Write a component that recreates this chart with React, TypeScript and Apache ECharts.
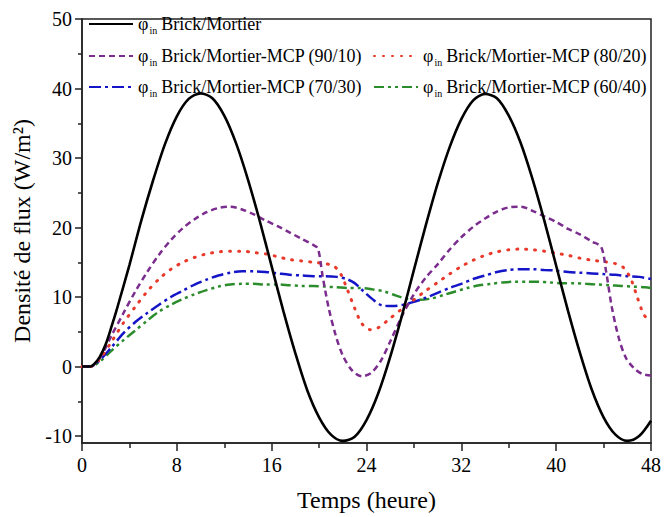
import React, { useEffect, useRef } from 'react';
import * as echarts from 'echarts';

// ---- data (time in hours, flux density in W/m²) ----
const xTickLabels = [0, 8, 16, 24, 32, 40, 48];
const yTickLabels = [-10, 0, 10, 20, 30, 40, 50];
const yMinorTicks = [-5, 5, 15, 25, 35, 45];

const seriesNames = [
  'Brick/Mortier',
  'Brick/Mortier-MCP (90/10)',
  'Brick/Mortier-MCP (80/20)',
  'Brick/Mortier-MCP (70/30)',
  'Brick/Mortier-MCP (60/40)',
];

const brickMortier: [number, number][] = [
  [0, 0], [0.7, 0], [1, 0.3], [1.5, 1.4], [2, 3.2], [2.5, 5.8], [3, 8.6], [4, 14.6], [5, 21], [6, 26.8], [7, 32],
  [8, 36], [9, 38.5], [10, 39.3], [11, 38.6], [12, 36.1], [13, 32.1], [14, 26.9], [15, 20.9],
  [16, 14.4], [17, 7.9], [18, 1.9], [19, -3.4], [20, -7.3], [21, -9.8], [22, -10.7], [23, -10.1],
  [24, -7.7], [25, -3.8], [26, 1.4], [27, 7.4], [28, 13.9], [29, 20.3], [30, 26.3], [31, 31.5],
  [32, 35.6], [33, 38.3], [34, 39.2], [35, 38.6], [36, 36.1], [37, 32.2], [38, 27], [39, 21],
  [40, 14.5], [41, 8], [42, 2], [43, -3.3], [44, -7.3], [45, -9.8], [46, -10.7], [47, -10], [48, -7.8],
];

const mcp9010: [number, number][] = [
  [0, 0], [0.7, 0], [1.5, 1.2], [2.5, 4.5], [3.5, 7.7], [4.5, 10.8], [5.5, 13.6], [6.5, 16.1],
  [7.5, 18.2], [8.5, 19.9], [9.5, 21.2], [10.5, 22.2], [11.5, 22.8], [12.5, 23], [13.5, 22.6],
  [14.5, 21.9], [15.5, 21], [16.5, 20.2], [17.5, 19.3], [18.5, 18.4], [19.5, 17.5], [19.9, 17],
  [20.3, 13], [20.8, 8.5], [21.4, 4.5], [22, 1.6], [22.8, -0.6], [23.6, -1.4], [24.4, -0.9],
  [25.2, 0.8], [26, 3.6], [27, 7.3], [28, 10.4], [29, 12.8], [30, 14.7], [31, 16.8], [32, 18.6],
  [33, 20.1], [34, 21.3], [35, 22.3], [36, 22.9], [37, 23], [38, 22.4], [39, 21.6], [40, 20.8],
  [41, 19.8], [42, 19], [43, 18], [43.8, 17.2], [44.2, 13.8], [44.7, 8.5], [45.3, 4], [45.9, 1.2],
  [46.6, -0.3], [47.3, -1.1], [48, -1.3],
];

const mcp8020: [number, number][] = [
  [0, 0], [0.7, 0], [1.5, 1.1], [2.5, 3.6], [3.5, 6.3], [4.5, 8.6], [5.5, 10.8], [6.5, 12.6],
  [7.5, 14], [8.5, 15], [9.5, 15.7], [10.5, 16.2], [11.5, 16.5], [12.5, 16.6], [13.5, 16.6],
  [14.5, 16.4], [15.5, 16.2], [16.5, 15.8], [17.5, 15.4], [18.5, 15.2], [19.5, 15], [20.5, 14.8],
  [21.2, 14.5], [21.8, 13.4], [22.4, 11], [23, 8.4], [23.6, 6.2], [24.3, 5.3], [25, 5.6],
  [25.9, 6.8], [27, 8.3], [28, 9.6], [29, 10.9], [30, 12.1], [31, 13.3], [32, 14.4], [33, 15.3],
  [34, 16], [35, 16.5], [36, 16.8], [37, 16.9], [38, 16.8], [39, 16.6], [40, 16.3], [41, 16],
  [42, 15.6], [43, 15.3], [44, 15.1], [45, 14.8], [45.7, 14.2], [46.3, 12.6], [46.8, 10.2],
  [47.3, 7.8], [47.7, 6.8], [48, 6.4],
];

const mcp7030: [number, number][] = [
  [0, 0], [0.7, 0], [1.5, 0.9], [2.5, 2.8], [3.5, 4.8], [4.5, 6.4], [5.5, 7.7], [6.5, 8.9],
  [7.5, 10], [8.5, 10.9], [9.5, 11.8], [10.5, 12.5], [11.5, 13.1], [12.5, 13.5], [13.5, 13.7],
  [14.5, 13.7], [15.5, 13.6], [16.5, 13.4], [17.5, 13.2], [18.5, 13.1], [19.5, 13], [20.5, 13],
  [21.5, 12.9], [22.3, 12.6], [23, 12], [23.7, 10.9], [24.5, 9.7], [25.3, 8.8], [26.2, 8.7],
  [27.1, 8.9], [28, 9.3], [29, 9.9], [30, 10.6], [31, 11.3], [32, 11.9], [33, 12.6], [34, 13.1],
  [35, 13.6], [36, 13.9], [37, 14], [38, 14], [39, 13.9], [40, 13.8], [41, 13.6], [42, 13.5],
  [43, 13.4], [44, 13.3], [45, 13.2], [46, 13], [47, 12.9], [48, 12.6],
];

const mcp6040: [number, number][] = [
  [0, 0], [0.7, 0], [1.5, 0.7], [2.5, 2.3], [3.5, 3.8], [4.5, 5.2], [5.5, 6.6], [6.5, 7.9],
  [7.5, 8.9], [8.5, 9.7], [9.5, 10.4], [10.5, 11], [11.5, 11.5], [12.5, 11.8], [13.5, 11.9],
  [14.5, 11.9], [15.5, 11.8], [16.5, 11.8], [17.5, 11.7], [18.5, 11.6], [19.5, 11.6], [20.5, 11.5],
  [21.5, 11.4], [22.5, 11.3], [23.5, 11.3], [24.5, 11.1], [25.5, 10.8], [26.5, 10.2], [27.5, 9.7],
  [28.5, 9.6], [29.5, 9.8], [30.5, 10.3], [31.5, 10.8], [32.5, 11.3], [33.5, 11.7], [34.5, 11.9],
  [35.5, 12.1], [36.5, 12.2], [37.5, 12.2], [38.5, 12.2], [39.5, 12.1], [40.5, 12], [41.5, 12],
  [42.5, 11.9], [43.5, 11.8], [44.5, 11.7], [45.5, 11.6], [46.5, 11.5], [47.5, 11.4], [48, 11.3],
];

const seriesData = [brickMortier, mcp9010, mcp8020, mcp7030, mcp6040];

const FONT = 'Liberation Serif';
const colors = ['#000000', '#7B2D8E', '#E8392B', '#1515C8', '#2B8C2B'];
const dashes: any[] = ['solid', [6, 4], [1, 8], [12, 4, 3, 4], [10, 4, 3, 4, 3, 4]];
const caps = ['butt', 'butt', 'round', 'butt', 'butt'];
const widths = [2.6, 2.5, 3, 2.5, 2.5];

// legend placement: [left, top]
const legendPos: [number, number][] = [
  [88, 15],
  [88, 47],
  [373, 47],
  [88, 78],
  [373, 78],
];

export default function App() {
  const ref = useRef<HTMLDivElement>(null);
  useEffect(() => {
    if (!ref.current) return;
    const chart = echarts.init(ref.current, undefined, { renderer: 'svg' });
    const rich = {
      phi: { fontFamily: FONT, fontSize: 18, lineHeight: 22, color: '#000' },
      sub: { fontFamily: FONT, fontSize: 10, lineHeight: 10, verticalAlign: 'bottom', color: '#000', padding: [0, 4, 0, 1] },
      txt: { fontFamily: FONT, fontSize: 18, lineHeight: 22, color: '#000' },
    };
    const option: any = {
      animation: false,
      backgroundColor: '#ffffff',
      grid: {
        left: 82, right: 12, top: 19, bottom: 74,
        show: true, borderColor: '#222', borderWidth: 1.5, backgroundColor: 'transparent',
      },
      legend: seriesNames.map((n, i) => ({
        data: [n],
        left: legendPos[i][0],
        top: legendPos[i][1],
        padding: 0,
        itemWidth: 44,
        itemHeight: 14,
        selectedMode: false,
        itemStyle: { color: 'transparent', borderColor: 'transparent', borderWidth: 0, opacity: 0 },
        formatter: (name: string) => `{phi|φ}{sub|in}{txt|${name}}`,
        textStyle: { rich },
      })),
      xAxis: {
        type: 'value',
        min: 0, max: 48, interval: 8,
        name: 'Temps (heure)',
        nameLocation: 'middle',
        nameGap: 45,
        nameTextStyle: { fontFamily: FONT, fontSize: 24, color: '#000' },
        axisLine: { show: true, onZero: false, lineStyle: { color: '#222', width: 1.5 } },
        axisTick: { show: true, inside: false, length: 8, lineStyle: { color: '#222', width: 1.5 } },
        minorTick: { show: true, splitNumber: 2, length: 5, lineStyle: { color: '#222', width: 1.5 } },
        axisLabel: {
          fontFamily: FONT, fontSize: 20, color: '#000', margin: 12,
          customValues: xTickLabels,
        },
        splitLine: { show: false },
        minorSplitLine: { show: false },
      },
      yAxis: [
        {
          type: 'value',
          min: -11, max: 50,
          name: 'Densité de flux (W/m²)',
          nameLocation: 'middle',
          nameRotate: 90,
          nameGap: 44,
          nameTextStyle: { fontFamily: FONT, fontSize: 24, color: '#000' },
          axisLine: { show: true, onZero: false, lineStyle: { color: '#222', width: 1.5 } },
          axisTick: { show: true, inside: false, length: 7, customValues: yTickLabels, lineStyle: { color: '#222', width: 1.5 } },
          axisLabel: { fontFamily: FONT, fontSize: 20, color: '#000', margin: 10, customValues: yTickLabels },
          splitLine: { show: false },
        },
        {
          type: 'value',
          min: -11, max: 50,
          position: 'left',
          axisLine: { show: false },
          axisTick: { show: true, inside: false, length: 4, customValues: yMinorTicks, lineStyle: { color: '#222', width: 1.5 } },
          axisLabel: { show: false },
          splitLine: { show: false },
        },
      ],
      series: seriesNames.map((n, i) => ({
        name: n,
        type: 'line',
        data: seriesData[i],
        yAxisIndex: 0,
        symbol: 'none',
        smooth: 0.3,
        z: 10 - i,
        lineStyle: { color: colors[i], width: widths[i], type: dashes[i], cap: caps[i] },
        itemStyle: { color: colors[i] },
      })),
    };
    chart.setOption(option);
    return () => chart.dispose();
  }, []);
  return <div ref={ref} style={{ position: 'absolute', left: 0, top: 0, width: 664, height: 517 }} />;
}
